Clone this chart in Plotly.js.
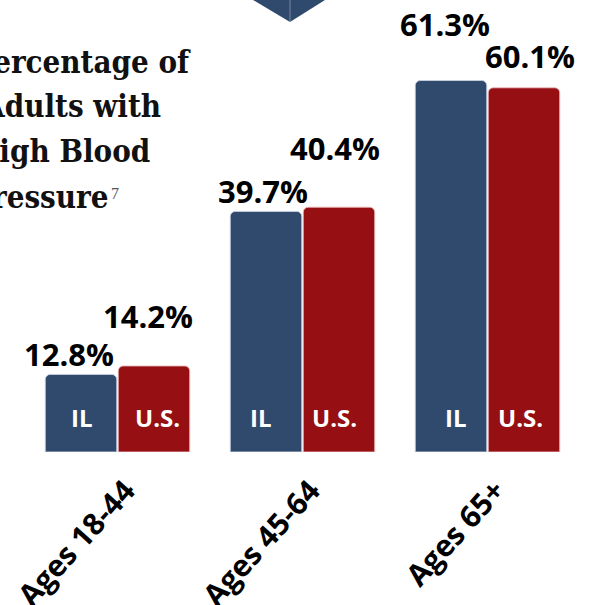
<!DOCTYPE html>
<html>
<head>
<meta charset="utf-8">
<script src="https://cdn.plot.ly/plotly-3.0.1.min.js"></script>
<style>html,body{margin:0;padding:0;background:#fff;}#chart{width:592px;height:605px;}</style>
</head>
<body>
<div id="chart"></div>
<script>
// ---- data ----
const categories = ['Ages 18-44', 'Ages 45-64', 'Ages 65+'];
const seriesNames = ['IL', 'U.S.'];
const ilValues = [12.8, 39.7, 61.3];
const usValues = [14.2, 40.4, 60.1];
const titleLines = ['Percentage of', 'Adults with', 'High Blood', 'Pressure'];
const footnote = '7';

// ---- styles / layout geometry ----
const W = 592, H = 605;
const M = {l: 25, r: 12, t: 10, b: 153};
const plotW = W - M.l - M.r, plotH = H - M.t - M.b;
const pxPerUnit = 6.06;
const yMax = plotH / pxPerUnit;
const colors = ['#304a6e', '#961013'];
const edge = ['rgba(200,210,225,0.9)', 'rgba(235,190,190,0.9)'];
const bargap = 0.211, bargroupgap = 0.02;
const catPx = plotW / categories.length;
const barOffsetPx = catPx * (1 - bargap) / 4;
const px2x = px => (px - M.l) / plotW;
const px2y = py => (M.t + plotH - py) / plotH;

// label fine-tuning (pixels)
const valueLift = [[20, 20, 57], [50, 59, 32]];
const valueNudge = [[-12, -3.5, -6.5], [-6, -4, 6]];
const nameNudge = [[1, -5.5, 4.5], [4, -4, -3]];
const titleRight = [193, 163, 152, 111];
const titleMid = [62, 106, 151, 197];
const titleFont = {family: 'DejaVu Serif Condensed, DejaVu Serif, serif', size: 31, weight: 700, color: '#111'};

const series = [ilValues, usValues];
const traces = series.map((vals, i) => ({
  type: 'bar', name: seriesNames[i], x: categories, y: vals,
  marker: {color: colors[i], cornerradius: 5, line: {color: edge[i], width: 1}},
  hoverinfo: 'skip', showlegend: false
}));

const annotations = [];
series.forEach((vals, i) => {
  const side = i === 0 ? -1 : 1;
  vals.forEach((v, j) => {
    annotations.push({
      xref: 'x', yref: 'y', x: categories[j], y: v,
      xshift: side * barOffsetPx + valueNudge[i][j], yshift: valueLift[i][j],
      yanchor: 'middle', xanchor: 'center', showarrow: false,
      text: v.toFixed(1) + '%',
      font: {family: 'Open Sans', size: 31, weight: 700, color: '#000'}
    });
    annotations.push({
      xref: 'x', yref: 'y', x: categories[j], y: 0,
      xshift: side * barOffsetPx + nameNudge[i][j], yshift: 35,
      yanchor: 'middle', xanchor: 'center', showarrow: false,
      text: seriesNames[i],
      font: {family: 'Open Sans', size: 24, weight: 700, color: '#fff'}
    });
  });
});
titleLines.forEach((t, k) => {
  annotations.push({
    xref: 'paper', yref: 'paper', x: px2x(titleRight[k]), y: px2y(titleMid[k]),
    xanchor: 'right', yanchor: 'middle', showarrow: false, text: t, font: titleFont
  });
});
annotations.push({
  xref: 'paper', yref: 'paper', x: px2x(109), y: px2y(193),
  xanchor: 'left', yanchor: 'middle', showarrow: false, text: footnote,
  font: {family: 'Liberation Serif', size: 16, color: '#555'}
});

const shapes = [
  {type: 'path', xref: 'paper', yref: 'paper',
   path: `M ${px2x(253)} ${px2y(0)} L ${px2x(325)} ${px2y(0)} L ${px2x(290)} ${px2y(22)} Z`,
   fillcolor: '#304a6e', line: {width: 0}},
  {type: 'line', xref: 'paper', yref: 'paper',
   x0: px2x(290), x1: px2x(290), y0: px2y(0), y1: px2y(22),
   line: {color: 'rgba(255,255,255,0.35)', width: 1}}
];

const layout = {
  width: W, height: H, autosize: false,
  margin: M, paper_bgcolor: '#fff', plot_bgcolor: '#fff',
  barmode: 'group', bargap: bargap, bargroupgap: bargroupgap,
  xaxis: {type: 'category', range: [-0.5, 2.5], showgrid: false, zeroline: false, showline: false,
          ticks: '', ticklabelstandoff: 14, ticklabelshift: 8, tickangle: -48,
          tickfont: {family: 'Open Sans', size: 30, weight: 700, color: '#000'}},
  yaxis: {range: [0, yMax], visible: false, fixedrange: true},
  annotations: annotations, shapes: shapes
};

Plotly.newPlot('chart', traces, layout, {displayModeBar: false, staticPlot: true});
</script>
</body>
</html>
